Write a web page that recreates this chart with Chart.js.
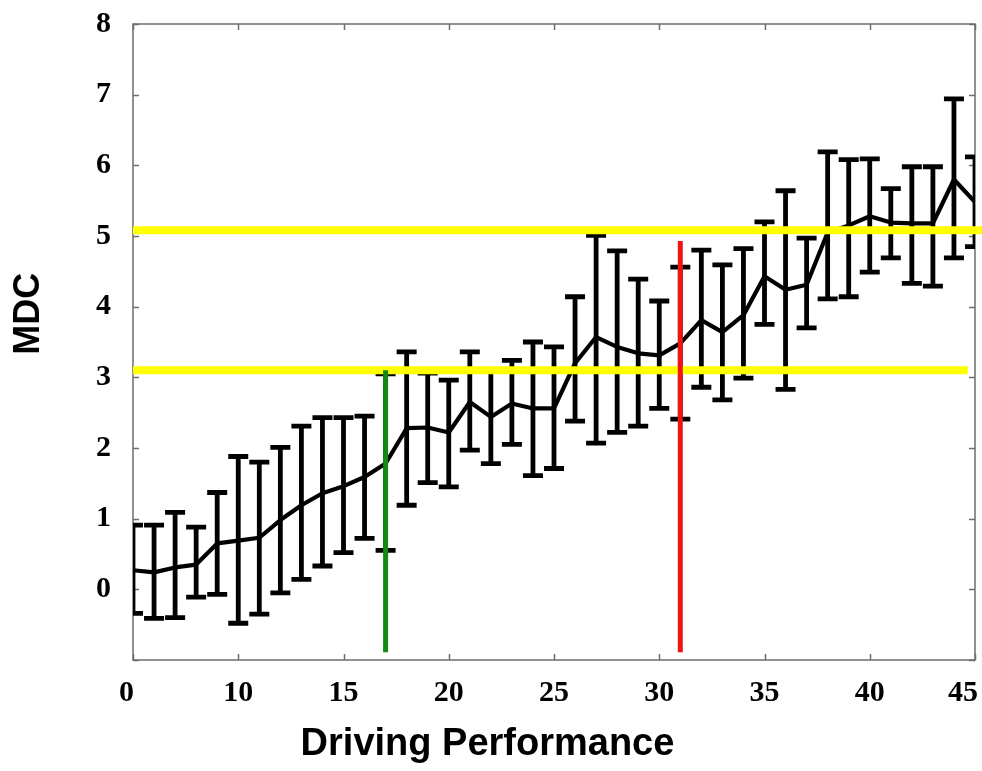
<!DOCTYPE html>
<html>
<head>
<meta charset="utf-8">
<script src="https://cdn.jsdelivr.net/npm/chart.js@4.4.1/dist/chart.umd.min.js"></script>
<style>
html,body{margin:0;padding:0;background:#ffffff;}
#wrap{width:982px;height:771px;}
</style>
</head>
<body>
<div id="wrap"><canvas id="c" width="982" height="771"></canvas></div>
<script>
// ---- data ----
const xValues    = [5,6,7,8,9,10,11,12,13,14,15,16,17,18,19,20,21,22,23,24,25,26,27,28,29,30,31,32,33,34,35,36,37,38,39,40,41,42,43,44,45];
const meanValues = [0.27,0.24,0.31,0.35,0.65,0.69,0.73,0.98,1.19,1.36,1.46,1.59,1.78,2.28,2.29,2.22,2.65,2.44,2.63,2.56,2.56,3.20,3.57,3.43,3.34,3.31,3.48,3.81,3.64,3.88,4.43,4.24,4.31,5.05,5.15,5.28,5.19,5.18,5.18,5.80,5.48];
const lowValues  = [-0.34,-0.41,-0.40,-0.11,-0.07,-0.48,-0.35,-0.05,0.14,0.33,0.52,0.72,0.55,1.19,1.51,1.45,1.97,1.78,2.05,1.61,1.71,2.38,2.07,2.22,2.31,2.56,2.41,2.86,2.68,2.99,3.75,2.83,3.70,4.11,4.14,4.49,4.69,4.33,4.29,4.69,4.85];
const highValues = [0.91,0.91,1.09,0.88,1.37,1.88,1.80,2.01,2.31,2.43,2.43,2.45,3.05,3.36,3.06,2.96,3.36,3.10,3.24,3.50,3.43,4.14,5.01,4.79,4.39,4.08,4.56,4.80,4.59,4.82,5.20,5.64,4.97,6.19,6.08,6.09,5.67,5.98,5.98,6.94,6.12];

const xTickLabels = ['0','10','15','20','25','30','35','40','45'];
const yTickLabels = ['0','1','2','3','4','5','6','7','8'];

const upperYellowY = 5.08;
const upperYellowX = [5, 45.35];
const lowerYellowY = 3.10;
const lowerYellowX = [5, 44.65];
const greenX = 17;
const greenY = [-0.89, 3.10];
const redX = 31;
const redY = [-0.89, 4.93];

const xTitle = 'Driving Performance';
const yTitle = 'MDC';
const yTitleCenter = 3.9;   // data-space y where the rotated MDC title is centred

// ---- plugins ----
const framePlugin = {
  id: 'frame',
  beforeDatasetsDraw(chart) {
    const {ctx, chartArea: a, scales: {x, y}} = chart;
    ctx.save();
    ctx.strokeStyle = '#6e6e6e';
    ctx.lineWidth = 1.5;
    ctx.strokeRect(a.left, a.top, a.right - a.left, a.bottom - a.top);
    const tl = 6;
    ctx.beginPath();
    x.ticks.forEach(t => {
      const px = Math.round(x.getPixelForValue(t.value)) + 0.5;
      ctx.moveTo(px, a.top); ctx.lineTo(px, a.top + tl);
      ctx.moveTo(px, a.bottom); ctx.lineTo(px, a.bottom - tl);
    });
    y.ticks.forEach(t => {
      const py = Math.round(y.getPixelForValue(t.value)) + 0.5;
      ctx.moveTo(a.left, py); ctx.lineTo(a.left + tl, py);
      ctx.moveTo(a.right, py); ctx.lineTo(a.right - tl, py);
    });
    ctx.stroke();
    ctx.restore();
  }
};

const errorBarPlugin = {
  id: 'errorBars',
  beforeDatasetsDraw(chart) {
    const {ctx, chartArea: a, scales: {x, y}} = chart;
    ctx.save();
    ctx.beginPath();
    ctx.rect(a.left, a.top, a.right - a.left, a.bottom - a.top);
    ctx.clip();
    ctx.strokeStyle = '#000000';
    ctx.lineWidth = 4.8;
    ctx.lineCap = 'butt';
    const half = 10;
    for (let i = 0; i < xValues.length; i++) {
      const px = x.getPixelForValue(xValues[i]);
      const pl = y.getPixelForValue(lowValues[i]);
      const ph = y.getPixelForValue(highValues[i]);
      ctx.beginPath();
      ctx.moveTo(px, pl); ctx.lineTo(px, ph);
      ctx.moveTo(px - half, pl); ctx.lineTo(px + half, pl);
      ctx.moveTo(px - half, ph); ctx.lineTo(px + half, ph);
      ctx.stroke();
    }
    ctx.restore();
  }
};

const axisTextPlugin = {
  id: 'axisText',
  afterDraw(chart) {
    const {ctx, chartArea: a, scales: {x, y}} = chart;
    ctx.save();
    // x tick labels
    ctx.font = 'bold 30px "Liberation Serif"';
    ctx.fillStyle = '#000000';
    ctx.textBaseline = 'middle';
    x.ticks.forEach((t, i) => {
      const label = xTickLabels[i];
      const w = ctx.measureText(label).width;
      let px = x.getPixelForValue(t.value);
      if (px - w / 2 < a.left - 1 && i === 0) {
        ctx.textAlign = 'right';
        ctx.fillText(label, px + 1, a.bottom + 33);
      } else {
        ctx.textAlign = 'center';
        px = Math.min(px, chart.width - w / 2 - 4);
        ctx.fillText(label, px, a.bottom + 33);
      }
    });
    // y axis title (rotated)
    ctx.font = 'bold 36px "Liberation Sans"';
    ctx.textAlign = 'center';
    ctx.textBaseline = 'middle';
    ctx.translate(29, y.getPixelForValue(yTitleCenter));
    ctx.rotate(-Math.PI / 2);
    ctx.fillText(yTitle, 0, 0);
    ctx.restore();
  }
};

// ---- chart ----
new Chart(document.getElementById('c'), {
  type: 'line',
  data: {
    datasets: [
      {
        label: 'red',
        data: redY.map(v => ({x: redX, y: v})),
        borderColor: '#f01414', borderWidth: 5, pointRadius: 0, clip: false
      },
      {
        label: 'green',
        data: greenY.map(v => ({x: greenX, y: v})),
        borderColor: '#138a13', borderWidth: 5, pointRadius: 0, clip: false
      },
      {
        label: 'upper',
        data: upperYellowX.map(v => ({x: v, y: upperYellowY})),
        borderColor: '#ffff00', borderWidth: 8, pointRadius: 0, clip: false
      },
      {
        label: 'lower',
        data: lowerYellowX.map(v => ({x: v, y: lowerYellowY})),
        borderColor: '#ffff00', borderWidth: 8, pointRadius: 0, clip: false
      },
      {
        label: 'MDC',
        data: xValues.map((v, i) => ({x: v, y: meanValues[i]})),
        borderColor: '#000000', borderWidth: 4.2, pointRadius: 0, tension: 0,
        borderJoinStyle: 'round'
      }
    ]
  },
  options: {
    responsive: false,
    animation: false,
    devicePixelRatio: 1,
    layout: {padding: {top: 24, right: 7, left: 0, bottom: 0}},
    plugins: {
      legend: {display: false},
      tooltip: {enabled: false},
      title: {
        display: true, position: 'bottom', align: 'center', text: xTitle, color: '#000000',
        font: {family: 'Liberation Sans', size: 38, weight: 'bold', lineHeight: 1.2},
        padding: {top: 0, bottom: 4}
      }
    },
    scales: {
      x: {
        type: 'linear',
        min: 5, max: 45,
        grid: {display: false, drawTicks: false},
        border: {display: false},
        ticks: {
          stepSize: 5,
          color: 'rgba(0,0,0,0)',
          font: {family: 'Liberation Serif', size: 30, weight: 'bold'},
          callback: (v, i) => xTickLabels[i],
          maxRotation: 0, autoSkip: false
        },
        afterFit(s) { s.height = 61.4; s.paddingLeft = 0; s.paddingRight = 0; }
      },
      y: {
        type: 'linear',
        min: -1, max: 8,
        grid: {display: false, drawTicks: false},
        border: {display: false},
        ticks: {
          stepSize: 1,
          color: '#000000',
          padding: 22,
          font: {family: 'Liberation Serif', size: 30, weight: 'bold'},
          callback: v => (v >= 0 ? yTickLabels[v] : '')
        },
        afterFit(s) { s.width = 133; s.paddingTop = 0; s.paddingBottom = 0; }
      }
    }
  },
  plugins: [framePlugin, errorBarPlugin, axisTextPlugin]
});
</script>
</body>
</html>
